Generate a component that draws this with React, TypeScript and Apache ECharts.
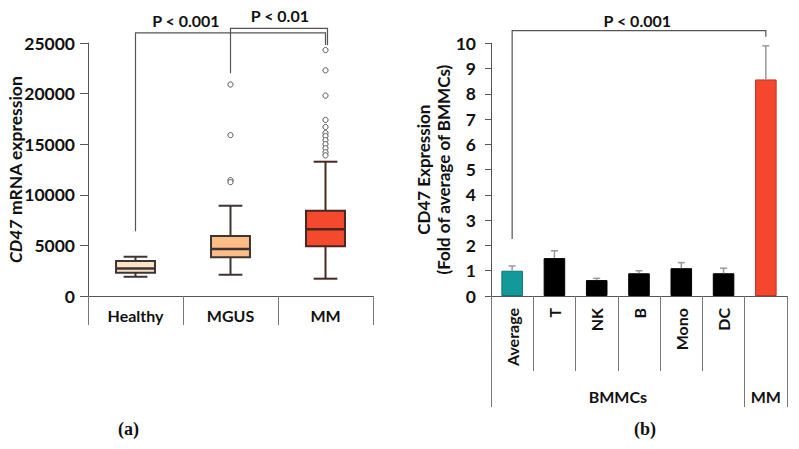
import React, { useEffect, useRef } from "react";
import * as echarts from "echarts";

// ---------- Panel (a): box plot ----------
const boxCategories = ["Healthy", "MGUS", "MM"];
// [min, Q1, median, Q3, max]
const boxStats = [
  [1900, 2300, 2720, 3460, 3880],
  [2100, 3820, 4640, 5930, 8920],
  [1710, 4910, 6590, 8430, 13270],
];
const boxFills = ["#FDE4C6", "#FDBD86", "#F4492D"];
const mgusOutliers = [20900, 15900, 11450, 11250];
const mmOutliers = [24300, 22300, 19800, 17400, 16700, 16100, 15800, 15400, 15000, 14600, 14200, 13900];
const yTicksA = [0, 5000, 10000, 15000, 20000, 25000];

// significance brackets (panel a)
const sigALabels = ["P < 0.001", "P < 0.01"];
const sigAFrom = [0, 1];
const sigAFromLow = [6400, 22000];
const sigATop = [26000, 26450];
const sigATo = [2, 2];
const sigAToLow = [24800, 24800];
const sigAToShift = [0, 2];
const sigALabelX = [0.53, 1.52];
const sigALabelY = [27200, 27700];

// ---------- Panel (b): bar chart ----------
const barCategories = ["Average", "T", "NK", "B", "Mono", "DC", ""];
const barValues = [1.0, 1.5, 0.63, 0.9, 1.1, 0.9, 8.57];
const barUpper = [1.19, 1.79, 0.7, 1.0, 1.32, 1.1, 9.9];
const barColors = ["#13999A", "#000000", "#000000", "#000000", "#000000", "#000000", "#F4472D"];
const groupNames = ["BMMCs", "MM"];
const groupCenters = [3, 6.5];
const groupBounds = [0, 6, 7];

const sigBLabel = "P < 0.001";
const sigBFrom = 0;
const sigBFromLow = 2.26;
const sigBTop = 10.5;
const sigBTo = 6;
const sigBToLow = 10.26;
const sigBLabelX = 2.96;
const sigBLabelY = 10.92;

const FONT = "Lato, 'Open Sans', sans-serif";
const AXIS_COLOR = "#555";

// category coordinate with fractional offset inside the band
function catX(api: any, v: number, y: number) {
  const base = Math.floor(v);
  const frac = v - base;
  return api.coord([base, y])[0] + frac * api.size([1, 0])[0];
}

export default function App() {
  const ref = useRef<HTMLDivElement>(null);

  useEffect(() => {
    if (!ref.current) return;
    const chart = echarts.init(ref.current, undefined, { renderer: "svg" });

    const boxData = boxStats.map((s, i) => [i, ...s]);
    const outlierData = [
      ...mgusOutliers.map((v) => [1, v]),
      ...mmOutliers.map((v) => [2, v]),
    ];
    const sigAData = sigALabels.map((_, i) => [
      sigAFrom[i], sigAFromLow[i], sigATop[i], sigATo[i], sigAToLow[i], sigAToShift[i], sigALabelX[i], sigALabelY[i], i,
    ]);
    const errData = barValues.map((v, i) => [i, v, barUpper[i]]);

    const option: any = {
      animation: false,
      backgroundColor: "#fff",
      textStyle: { fontFamily: FONT },
      grid: [
        { left: 88, top: 43, width: 285, height: 253, containLabel: false },
        { left: 491, top: 43.3, width: 296, height: 252.7, containLabel: false },
      ],
      xAxis: [
        {
          gridIndex: 0,
          type: "category",
          data: boxCategories,
          boundaryGap: true,
          axisLine: { lineStyle: { color: AXIS_COLOR, width: 1 } },
          axisTick: { show: true, interval: 0, length: 29, lineStyle: { color: "#777" } },
          axisLabel: { interval: 0, margin: 11, color: "#111", fontWeight: "bold", fontSize: 16, fontFamily: FONT },
        },
        {
          gridIndex: 1,
          type: "category",
          data: barCategories,
          boundaryGap: true,
          axisLine: { lineStyle: { color: AXIS_COLOR, width: 1 } },
          axisTick: { show: true, interval: 0, length: 75, lineStyle: { color: "#777" } },
          axisLabel: { interval: 0, rotate: 90, margin: 12, color: "#111", fontWeight: "bold", fontSize: 16, fontFamily: FONT },
        },
        {
          gridIndex: 1,
          type: "value",
          min: 0,
          max: 7,
          position: "bottom",
          axisLine: { show: false },
          splitLine: { show: false },
          axisTick: { show: true, customValues: groupBounds, length: 111, lineStyle: { color: "#777" } },
          axisLabel: {
            customValues: groupCenters,
            margin: 92,
            color: "#111",
            fontWeight: "bold",
            fontSize: 16,
            fontFamily: FONT,
            formatter: (v: number) => groupNames[groupCenters.indexOf(v)] ?? "",
          },
        },
      ],
      yAxis: [
        {
          gridIndex: 0,
          type: "value",
          min: 0,
          max: 25000,
          interval: 5000,
          name: "{i|CD47} mRNA expression",
          nameLocation: "middle",
          nameGap: 64,
          nameMoveOverlap: false,
          nameTextStyle: {
            color: "#111",
            fontWeight: "bold",
            fontSize: 17.5,
            fontFamily: FONT,
            rich: { i: { fontStyle: "italic", fontWeight: "bold", fontSize: 17.5, fontFamily: FONT, color: "#111" } },
          },
          axisLine: { show: true, lineStyle: { color: AXIS_COLOR } },
          axisTick: { show: true, length: 8, lineStyle: { color: AXIS_COLOR } },
          splitLine: { show: false },
          axisLabel: {
            margin: 13,
            color: "#111",
            fontWeight: "bold",
            fontSize: 17.5,
            fontFamily: FONT,
            customValues: yTicksA,
            formatter: (v: number) => String(v),
          },
        },
        {
          gridIndex: 1,
          type: "value",
          min: 0,
          max: 10,
          interval: 1,
          name: "CD47 Expression\n(Fold of average of BMMCs)",
          nameLocation: "middle",
          nameGap: 38,
          nameMoveOverlap: false,
          nameTextStyle: { color: "#111", fontWeight: "bold", fontSize: 17, lineHeight: 20, fontFamily: FONT },
          axisLine: { show: true, lineStyle: { color: AXIS_COLOR } },
          axisTick: { show: true, length: 6, lineStyle: { color: AXIS_COLOR } },
          splitLine: { show: false },
          axisLabel: { margin: 15, color: "#111", fontWeight: "bold", fontSize: 17.5, fontFamily: FONT },
        },
      ],
      series: [
        {
          type: "custom",
          name: "box",
          xAxisIndex: 0,
          yAxisIndex: 0,
          data: boxData,
          encode: { x: 0, y: [1, 2, 3, 4, 5] },
          renderItem: (params: any, api: any) => {
            const x = api.value(0);
            const idx = params.dataIndex;
            const [cx, yMin] = api.coord([x, api.value(1)]);
            const yQ1 = api.coord([x, api.value(2)])[1];
            const yMed = api.coord([x, api.value(3)])[1];
            const yQ3 = api.coord([x, api.value(4)])[1];
            const yMax = api.coord([x, api.value(5)])[1];
            const band = api.size([1, 0])[0];
            const bw = band * 0.41;
            const cw = band * 0.25;
            const stroke = idx === 2 ? "#4a2620" : "#3d3434";
            const ls = { stroke, lineWidth: 2 };
            return {
              type: "group",
              children: [
                { type: "line", shape: { x1: cx, y1: yMax, x2: cx, y2: yQ3 }, style: ls },
                { type: "line", shape: { x1: cx, y1: yQ1, x2: cx, y2: yMin }, style: ls },
                { type: "line", shape: { x1: cx - cw / 2, y1: yMax, x2: cx + cw / 2, y2: yMax }, style: ls },
                { type: "line", shape: { x1: cx - cw / 2, y1: yMin, x2: cx + cw / 2, y2: yMin }, style: ls },
                {
                  type: "rect",
                  shape: { x: cx - bw / 2, y: yQ3, width: bw, height: yQ1 - yQ3 },
                  style: { fill: boxFills[idx], stroke, lineWidth: 2 },
                },
                { type: "line", shape: { x1: cx - bw / 2, y1: yMed, x2: cx + bw / 2, y2: yMed }, style: { stroke, lineWidth: 2.5 } },
              ],
            };
          },
        },
        {
          type: "custom",
          name: "outliers",
          xAxisIndex: 0,
          yAxisIndex: 0,
          data: outlierData,
          encode: { x: 0, y: 1 },
          z: 4,
          renderItem: (params: any, api: any) => {
            const [cx, cy] = api.coord([api.value(0), api.value(1)]);
            return {
              type: "circle",
              shape: { cx, cy, r: 2.6 },
              style: { fill: "#fff", stroke: "#555", lineWidth: 1 },
            };
          },
        },
        {
          type: "custom",
          name: "sigA",
          xAxisIndex: 0,
          yAxisIndex: 0,
          data: sigAData,
          encode: { x: 0, y: 1 },
          clip: false,
          z: 5,
          renderItem: (params: any, api: any) => {
            const [x1, y1] = api.coord([api.value(0), api.value(1)]);
            const yT = api.coord([api.value(0), api.value(2)])[1];
            const [x2r, y2] = api.coord([api.value(3), api.value(4)]);
            const x2 = x2r + api.value(5);
            const lx = catX(api, api.value(6), api.value(7));
            const ly = api.coord([0, api.value(7)])[1];
            const label = sigALabels[api.value(8)];
            return {
              type: "group",
              children: [
                {
                  type: "polyline",
                  shape: { points: [[x1, y1], [x1, yT], [x2, yT], [x2, y2]] },
                  style: { stroke: "#555", lineWidth: 1.2, fill: "none" },
                },
                {
                  type: "text",
                  x: lx,
                  y: ly,
                  style: {
                    text: label,
                    fill: "#111",
                    fontSize: 16,
                    fontWeight: "bold",
                    fontFamily: FONT,
                    align: "center",
                    verticalAlign: "middle",
                  },
                },
              ],
            };
          },
        },
        {
          type: "bar",
          name: "CD47",
          xAxisIndex: 1,
          yAxisIndex: 1,
          barWidth: "51%",
          data: barValues.map((v, i) => ({
            value: v,
            itemStyle: {
              color: barColors[i],
              borderColor: i === 6 ? "#b8362a" : i === 0 ? "#0d7576" : "#000",
              borderWidth: 1,
            },
          })),
        },
        {
          type: "custom",
          name: "errors",
          xAxisIndex: 1,
          yAxisIndex: 1,
          data: errData,
          encode: { x: 0, y: [1, 2] },
          z: 3,
          renderItem: (params: any, api: any) => {
            const x = api.value(0);
            const [cx, yv] = api.coord([x, api.value(1)]);
            const yu = api.coord([x, api.value(2)])[1];
            const ls = { stroke: "#999", lineWidth: 1.5 };
            return {
              type: "group",
              children: [
                { type: "line", shape: { x1: cx, y1: yv, x2: cx, y2: yu }, style: ls },
                { type: "line", shape: { x1: cx - 3.5, y1: yu, x2: cx + 3.5, y2: yu }, style: ls },
              ],
            };
          },
        },
        {
          type: "custom",
          name: "sigB",
          xAxisIndex: 1,
          yAxisIndex: 1,
          data: [[sigBFrom, sigBFromLow, sigBTop, sigBTo, sigBToLow, sigBLabelX, sigBLabelY]],
          encode: { x: 0, y: 1 },
          clip: false,
          z: 5,
          renderItem: (params: any, api: any) => {
            const [x1, y1] = api.coord([api.value(0), api.value(1)]);
            const yT = api.coord([api.value(0), api.value(2)])[1];
            const [x2, y2] = api.coord([api.value(3), api.value(4)]);
            const lx = catX(api, api.value(5), api.value(6));
            const ly = api.coord([0, api.value(6)])[1];
            return {
              type: "group",
              children: [
                {
                  type: "polyline",
                  shape: { points: [[x1, y1], [x1, yT], [x2, yT], [x2, y2]] },
                  style: { stroke: "#555", lineWidth: 1.2, fill: "none" },
                },
                {
                  type: "text",
                  x: lx,
                  y: ly,
                  style: {
                    text: sigBLabel,
                    fill: "#111",
                    fontSize: 16,
                    fontWeight: "bold",
                    fontFamily: FONT,
                    align: "center",
                    verticalAlign: "middle",
                  },
                },
              ],
            };
          },
        },
      ],
      graphic: [
        {
          type: "text",
          left: 118,
          top: 420,
          style: { text: "(a)", fill: "#111", fontSize: 18, fontWeight: "bold", fontFamily: "'Liberation Serif', 'DejaVu Serif', serif" },
        },
        {
          type: "text",
          left: 634,
          top: 420,
          style: { text: "(b)", fill: "#111", fontSize: 18, fontWeight: "bold", fontFamily: "'Liberation Serif', 'DejaVu Serif', serif" },
        },
      ],
    };

    chart.setOption(option);
    return () => chart.dispose();
  }, []);

  return (
    <div
      ref={ref}
      style={{ position: "fixed", left: 0, top: 0, width: 799, height: 449, background: "#fff" }}
    />
  );
}
